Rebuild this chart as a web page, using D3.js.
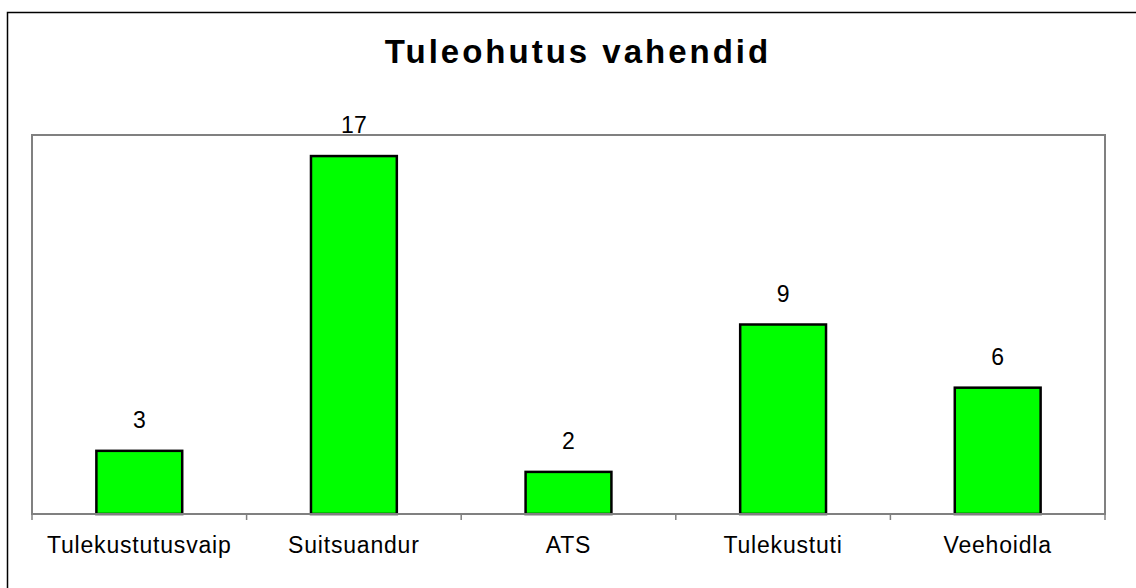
<!DOCTYPE html>
<html>
<head>
<meta charset="utf-8">
<script src="https://cdn.jsdelivr.net/npm/d3@7"></script>
<style>
  body { margin: 0; background: #fff; }
  svg { display: block; font-family: "Liberation Sans", Arial, sans-serif; }
</style>
</head>
<body>
<div id="chart"></div>
<script>
// Chart data
const title = "Tuleohutus vahendid";
const categories = ["Tulekustutusvaip", "Suitsuandur", "ATS", "Tulekustuti", "Veehoidla"];
const values = [3, 17, 2, 9, 6];
const yMax = 18;

const width = 1136;
const height = 588;
const plot = { left: 32, right: 1105, top: 135, bottom: 514 };

const svg = d3.select('#chart')
    .append('svg')
    .attr('width', width)
    .attr('height', height);

// outer chart frame (only top and left edges show in the picture)
svg.append('path')
    .attr('d', `M7.5,${height} V12.5 H${width}`)
    .attr('fill', 'none')
    .attr('stroke', '#000')
    .attr('stroke-width', 1.5);

// title
svg.append('text')
    .attr('x', 578)
    .attr('y', 63)
    .attr('text-anchor', 'middle')
    .attr('font-size', 33)
    .attr('font-weight', 'bold')
    .attr('letter-spacing', 3)
    .text(title);

// scales
const x = d3.scaleBand()
    .domain(categories)
    .range([plot.left, plot.right])
    .paddingInner(0.6)
    .paddingOuter(0.3);

const y = d3.scaleLinear()
    .domain([0, yMax])
    .range([plot.bottom, plot.top]);

// plot area border
svg.append('rect')
    .attr('x', plot.left)
    .attr('y', plot.top)
    .attr('width', plot.right - plot.left)
    .attr('height', plot.bottom - plot.top)
    .attr('fill', 'none')
    .attr('stroke', '#808080')
    .attr('stroke-width', 2);

// bars
svg.selectAll('rect.bar')
    .data(values)
    .join('rect')
    .attr('class', 'bar')
    .attr('x', (d, i) => x(categories[i]))
    .attr('y', d => y(d))
    .attr('width', x.bandwidth())
    .attr('height', d => y(0) - y(d))
    .attr('fill', '#00ff00')
    .attr('stroke', '#000')
    .attr('stroke-width', 2.5);

// value labels
svg.selectAll('text.val')
    .data(values)
    .join('text')
    .attr('class', 'val')
    .attr('x', (d, i) => x(categories[i]) + x.bandwidth() / 2)
    .attr('y', d => y(d) - 23)
    .attr('text-anchor', 'middle')
    .attr('font-size', 23)
    .text(d => d);

// category axis: baseline + ticks at band boundaries
const boundaries = d3.range(categories.length + 1).map(i => plot.left + i * (plot.right - plot.left) / categories.length);
svg.append('line')
    .attr('x1', plot.left).attr('x2', plot.right)
    .attr('y1', plot.bottom).attr('y2', plot.bottom)
    .attr('stroke', '#808080').attr('stroke-width', 2);
svg.selectAll('line.tick')
    .data(boundaries)
    .join('line')
    .attr('class', 'tick')
    .attr('x1', d => d).attr('x2', d => d)
    .attr('y1', plot.bottom).attr('y2', plot.bottom + 6)
    .attr('stroke', '#808080').attr('stroke-width', 1.5);

svg.selectAll('text.cat')
    .data(categories)
    .join('text')
    .attr('class', 'cat')
    .attr('x', d => x(d) + x.bandwidth() / 2)
    .attr('y', 553)
    .attr('text-anchor', 'middle')
    .attr('font-size', 23)
    .attr('letter-spacing', 0.8)
    .text(d => d);
</script>
</body>
</html>
